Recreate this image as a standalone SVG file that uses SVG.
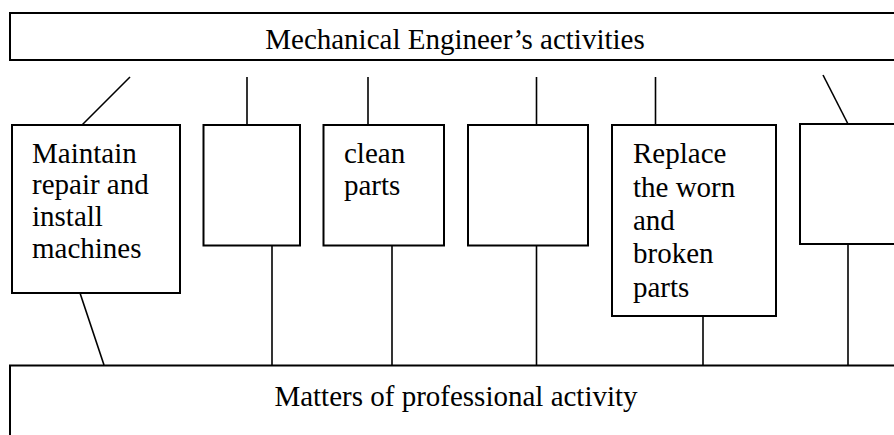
<svg xmlns="http://www.w3.org/2000/svg" width="894" height="435" viewBox="0 0 894 435">
<style>
.box{fill:#fff;stroke:#000;stroke-width:2}
.ln{stroke:#000;stroke-width:1.6;fill:none}
text{font-family:"Liberation Serif","Times New Roman",serif;font-size:29px;fill:#000}
.c{text-anchor:middle}
</style>
<rect width="894" height="435" fill="#fff"/>
<g id="connectors">
<line class="ln" x1="130" y1="77" x2="82" y2="125"/>
<line class="ln" x1="247" y1="77" x2="247" y2="125"/>
<line class="ln" x1="368" y1="77" x2="368" y2="125"/>
<line class="ln" x1="536.5" y1="77" x2="536.5" y2="125"/>
<line class="ln" x1="655.5" y1="77" x2="655.5" y2="125"/>
<line class="ln" x1="823" y1="75" x2="848" y2="124"/>
<line class="ln" x1="80" y1="293" x2="104" y2="365"/>
<line class="ln" x1="272" y1="245" x2="272" y2="365"/>
<line class="ln" x1="392" y1="245" x2="392" y2="365"/>
<line class="ln" x1="536.5" y1="245" x2="536.5" y2="365"/>
<line class="ln" x1="703" y1="316" x2="703" y2="365"/>
<line class="ln" x1="848" y1="244" x2="848" y2="365"/>
</g>
<g id="top">
<rect class="box" x="10" y="13" width="900" height="47"/>
<text class="c" x="455" y="49">Mechanical Engineer’s activities</text>
</g>
<g id="n1">
<rect class="box" x="12" y="125" width="168" height="168"/>
<text x="32" y="162.5">Maintain</text>
<text x="32" y="194.2">repair and</text>
<text x="32" y="225.9">install</text>
<text x="32" y="257.6">machines</text>
</g>
<g id="n2">
<rect class="box" x="203.5" y="125" width="96.5" height="120.5"/>
</g>
<g id="n3">
<rect class="box" x="323.5" y="125" width="120.5" height="120.5"/>
<text x="344" y="162.5">clean</text>
<text x="344" y="195">parts</text>
</g>
<g id="n4">
<rect class="box" x="468" y="125" width="120" height="120.5"/>
</g>
<g id="n5">
<rect class="box" x="612" y="125" width="164" height="191"/>
<text x="633" y="163.3">Replace</text>
<text x="633" y="196.6">the worn</text>
<text x="633" y="229.9">and</text>
<text x="633" y="263.2">broken</text>
<text x="633" y="296.5">parts</text>
</g>
<g id="n6">
<rect class="box" x="800" y="124" width="110" height="120"/>
</g>
<g id="bottom">
<rect class="box" x="10" y="365.5" width="900" height="90"/>
<text class="c" x="456" y="406">Matters of professional activity</text>
</g>
</svg>
